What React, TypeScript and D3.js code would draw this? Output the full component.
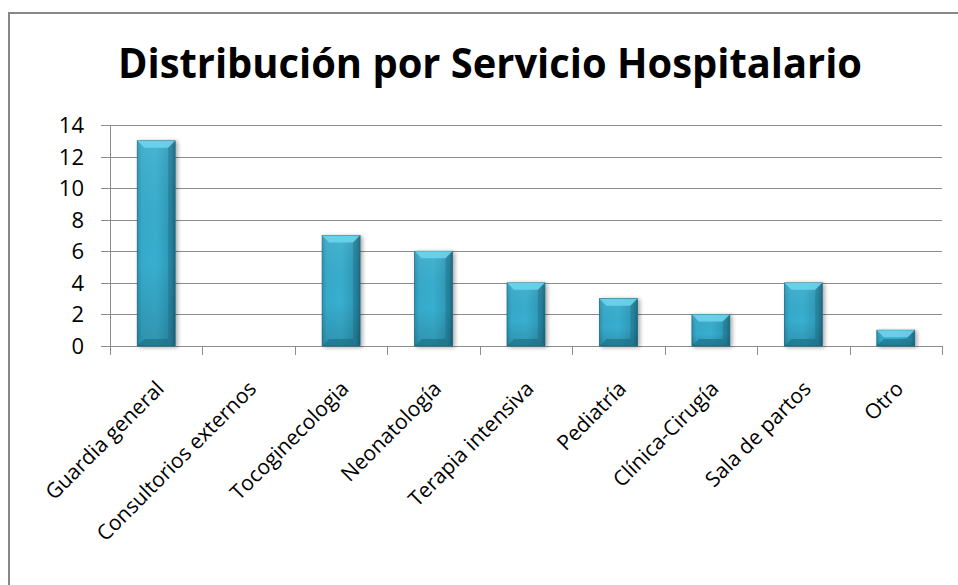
import React from "react";
import * as d3 from "d3";

const categories = [
  "Guardia general",
  "Consultorios externos",
  "Tocoginecologia",
  "Neonatología",
  "Terapia intensiva",
  "Pediatría",
  "Clínica-Cirugía",
  "Sala de partos",
  "Otro",
];
const values = [13, 0, 7, 6, 4, 3, 2, 4, 1];
const yTicks = [0, 2, 4, 6, 8, 10, 12, 14];
const title = "Distribución por Servicio Hospitalario";

const W = 958;
const H = 585;
const plot = { left: 110, right: 942, top: 125, bottom: 346 };
const font = "'Open Sans', 'DejaVu Sans', sans-serif";

export default function App() {
  const x = d3
    .scaleBand<string>()
    .domain(categories)
    .range([plot.left, plot.right])
    .paddingInner(0.59)
    .paddingOuter(0.295);
  const y = d3.scaleLinear().domain([0, 14]).range([plot.bottom, plot.top]);
  const band = (plot.right - plot.left) / categories.length;
  const bw = x.bandwidth();
  const gridColor = "#8c8c8c";

  return (
    <svg
      width={W}
      height={H}
      style={{ position: "absolute", left: 0, top: 0, background: "#fff" }}
    >
      <defs>
        <linearGradient id="barH" x1="0" x2="1" y1="0" y2="0">
          <stop offset="0" stopColor="#2a93b1" />
          <stop offset="0.12" stopColor="#36aacb" />
          <stop offset="0.5" stopColor="#38afcf" />
          <stop offset="0.88" stopColor="#2d97b6" />
          <stop offset="1" stopColor="#1f6f86" />
        </linearGradient>
        <linearGradient id="barV" x1="0" x2="0" y1="0" y2="1">
          <stop offset="0" stopColor="#ffffff" stopOpacity="0.08" />
          <stop offset="0.6" stopColor="#000000" stopOpacity="0" />
          <stop offset="1" stopColor="#000000" stopOpacity="0.15" />
        </linearGradient>
        <filter id="shadow" x="-20%" y="-20%" width="160%" height="140%">
          <feGaussianBlur in="SourceAlpha" stdDeviation="2" />
          <feOffset dx="2" dy="1" result="b" />
          <feComponentTransfer>
            <feFuncA type="linear" slope="0.35" />
          </feComponentTransfer>
          <feMerge>
            <feMergeNode />
            <feMergeNode in="SourceGraphic" />
          </feMerge>
        </filter>
      </defs>

      <rect x={9} y={13} width={1200} height={1200} fill="#fff" stroke="#878787" strokeWidth={2} />

      <text
        x={490}
        y={78}
        textAnchor="middle"
        fontFamily={font}
        fontWeight={700}
        fontSize={41}
        textLength={744}
        lengthAdjust="spacingAndGlyphs"
        fill="#000"
      >
        {title}
      </text>

      {yTicks.map((t) => (
        <g key={t}>
          <line
            x1={plot.left - 9}
            x2={t === 0 ? plot.left : plot.right}
            y1={Math.round(y(t)) + 0.5}
            y2={Math.round(y(t)) + 0.5}
            stroke={gridColor}
            strokeWidth={1}
          />
          <text
            x={84}
            y={y(t) + 8}
            textAnchor="end"
            fontFamily={font}
            fontSize={22}
            fill="#000"
          >
            {t}
          </text>
        </g>
      ))}

      <line x1={plot.left + 0.5} x2={plot.left + 0.5} y1={plot.top} y2={plot.bottom} stroke={gridColor} />
      <line x1={plot.left} x2={plot.right + 0.5} y1={plot.bottom + 0.5} y2={plot.bottom + 0.5} stroke={gridColor} />
      {d3.range(categories.length + 1).map((i) => (
        <line
          key={i}
          x1={Math.round(plot.left + i * band) + 0.5}
          x2={Math.round(plot.left + i * band) + 0.5}
          y1={plot.bottom}
          y2={plot.bottom + 9}
          stroke={gridColor}
        />
      ))}

      {categories.map((c, i) => {
        const v = values[i];
        if (v <= 0) return null;
        const x0 = x(c)!;
        const y0 = y(v);
        const h = plot.bottom - y0;
        const bev = Math.min(7, h / 2);
        return (
          <g key={c} filter="url(#shadow)">
            <rect x={x0} y={y0} width={bw} height={h} fill="url(#barH)" stroke="#1d6d84" strokeWidth={0.8} />
            <rect x={x0} y={y0} width={bw} height={h} fill="url(#barV)" />
            <path
              d={`M${x0},${y0} L${x0 + bw},${y0} L${x0 + bw - bev},${y0 + bev} L${x0 + bev},${y0 + bev} Z`}
              fill="#6fd6ee"
              opacity={0.85}
            />
            <path
              d={`M${x0},${y0 + h} L${x0 + bw},${y0 + h} L${x0 + bw - bev},${y0 + h - bev} L${x0 + bev},${y0 + h - bev} Z`}
              fill="#1c6a80"
              opacity={0.6}
            />
            <path
              d={`M${x0 + bw},${y0} L${x0 + bw},${y0 + h} L${x0 + bw - bev},${y0 + h - bev} L${x0 + bw - bev},${y0 + bev} Z`}
              fill="#1a5f73"
              opacity={0.35}
            />
          </g>
        );
      })}

      {categories.map((c, i) => {
        const cx = x(c)! + bw / 2;
        return (
          <text
            key={c}
            transform={`translate(${cx + 9},${plot.bottom + 44}) rotate(-45)`}
            textAnchor="end"
            fontFamily={font}
            fontSize={21}
            fill="#000"
          >
            {c}
          </text>
        );
      })}
    </svg>
  );
}
